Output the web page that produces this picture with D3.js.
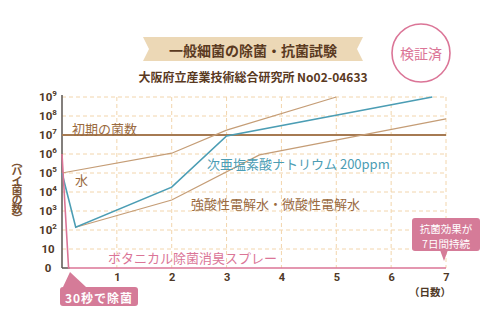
<!DOCTYPE html>
<html><head><meta charset="utf-8">
<script src="https://cdn.jsdelivr.net/npm/d3@7"></script>
<style>
html,body{margin:0;padding:0;background:#fff;}
svg{display:block;font-family:"Noto Sans CJK JP","Noto Sans",sans-serif;}
</style></head><body>
<svg id="c" width="503" height="323"></svg>
<script>
// ---- data ----
const dayTicks = [1, 2, 3, 4, 5, 6, 7];
const countTicks = [1, 10, 1e2, 1e3, 1e4, 1e5, 1e6, 1e7, 1e8, 1e9];
const countTickBase = ["0", "10", "10", "10", "10", "10", "10", "10", "10", "10"];
const countTickExp = ["", "", "2", "3", "4", "5", "6", "7", "8", "9"];
const initialCount = 1e7;

const waterDays = [0, 2, 3, 5];
const waterCounts = [1e5, 1.1e6, 1.8e7, 1e9];
const hypoDays = [0, 0.25, 2, 3, 6.75];
const hypoCounts = [1e5, 1.4e2, 1.8e4, 9e6, 1e9];
const acidDays = [0.25, 2, 3.6, 7];
const acidCounts = [1.4e2, 3.8e3, 9e5, 7e7];
const botanicalDays = [0, 0.12, 7];
const botanicalCounts = [1e6, 0, 0];

const titleText = "一般細菌の除菌・抗菌試験";
const subtitleText = "大阪府立産業技術総合研究所 No02-04633";
const stampText = "検証済";
const yAxisTitle = "（バイ菌の数）";
const xAxisTitle = "（日数）";

// ---- colors ----
const C = {
  grid: "#f2d5ac", axis: "#5a5450", tick: "#4e3826",
  initial: "#a67a52", thin: "#c59d76", blue: "#4b9db4", pink: "#db7597",
  labelBrown: "#9a6a3e", ylabel: "#7a5232", callout: "#d57b98", title: "#5a3a1f", banner: "#ecd8b6"
};

const svg = d3.select("#c");
const x = d3.scaleLinear().domain([0, 7]).range([62, 446]);
const y = d3.scaleLog().domain([1, 1e9]).range([268, 97]);
const yv = v => y(Math.max(v, 1));

// ---- header ----
const bx0 = 143, bx1 = 363, by0 = 37, by1 = 61, notch = 6;
svg.append("path")
  .attr("d", `M${bx0},${by0} L${bx1},${by0} L${bx1 - notch},${(by0 + by1) / 2} L${bx1},${by1} L${bx0},${by1} L${bx0 + notch},${(by0 + by1) / 2} Z`)
  .attr("fill", C.banner);
svg.append("text").attr("x", 253).attr("y", 50).attr("text-anchor", "middle")
  .attr("dominant-baseline", "central").attr("font-size", 14).attr("font-weight", 700)
  .attr("fill", C.title).text(titleText);
svg.append("text").attr("x", 253).attr("y", 76).attr("text-anchor", "middle")
  .attr("dominant-baseline", "central").attr("font-size", 12).attr("font-weight", 700)
  .attr("fill", C.title).text(subtitleText);
svg.append("circle").attr("cx", 421).attr("cy", 53).attr("r", 29)
  .attr("fill", "#fff").attr("stroke", C.pink).attr("stroke-width", 1.6);
svg.append("text").attr("x", 421).attr("y", 53).attr("text-anchor", "middle")
  .attr("dominant-baseline", "central").attr("font-size", 14).attr("fill", C.pink).text(stampText);

// ---- grid ----
svg.append("g").selectAll("line")
  .data(countTicks.filter(v => v > 1 && v !== initialCount))
  .join("line")
  .attr("x1", x(0)).attr("x2", x(7))
  .attr("y1", d => y(d)).attr("y2", d => y(d))
  .attr("stroke", C.grid).attr("stroke-width", 1).attr("stroke-dasharray", "4,3");
svg.append("g").selectAll("line")
  .data(dayTicks)
  .join("line")
  .attr("x1", d => x(d)).attr("x2", d => x(d))
  .attr("y1", y(1e9)).attr("y2", y(1))
  .attr("stroke", C.grid).attr("stroke-width", 1).attr("stroke-dasharray", "4,3");

// ---- axes ----
const xAxis = svg.append("g").attr("transform", `translate(0,${y(1) + 2})`)
  .call(d3.axisBottom(x).tickValues(dayTicks).tickSize(0).tickFormat(d3.format("d")));
xAxis.select(".domain").remove();
xAxis.selectAll("text").attr("font-size", 11).attr("font-weight", 700)
  .attr("fill", C.tick).attr("font-family", "Roboto, 'Noto Sans', sans-serif");
svg.append("text").attr("x", 430).attr("y", 291).attr("text-anchor", "middle")
  .attr("dominant-baseline", "central").attr("font-size", 10.5).attr("font-weight", 700)
  .attr("fill", C.tick).text(xAxisTitle);

const yAxis = svg.append("g").attr("transform", `translate(56,0)`)
  .call(d3.axisLeft(y).tickValues(countTicks).tickSize(0).tickFormat(""));
yAxis.select(".domain").remove();
yAxis.selectAll(".tick text").each(function (d, i) {
  const t = d3.select(this).text(null)
    .attr("x", -8).attr("dy", null).attr("y", -1)
    .attr("text-anchor", "middle").attr("dominant-baseline", "central")
    .attr("font-size", 11.5).attr("font-weight", 700).attr("fill", C.tick)
    .attr("font-family", "Roboto, 'Noto Sans', sans-serif");
  t.append("tspan").text(countTickBase[i]);
  if (countTickExp[i]) t.append("tspan").attr("font-size", 8).attr("dy", -4).text(countTickExp[i]);
});

svg.append("text").attr("x", 17).attr("y", 156)
  .style("writing-mode", "vertical-rl")
  .attr("font-size", 11).attr("font-weight", 700).attr("letter-spacing", -1.5)
  .attr("fill", C.ylabel).text(yAxisTitle);

svg.append("line").attr("x1", x(0)).attr("x2", x(0)).attr("y1", 95).attr("y2", y(1))
  .attr("stroke", C.axis).attr("stroke-width", 1.5);
svg.append("line").attr("x1", x(0)).attr("x2", x(0.14)).attr("y1", y(1)).attr("y2", y(1))
  .attr("stroke", C.axis).attr("stroke-width", 1.5);

// ---- series ----
const line = d3.line().x(d => x(d[0])).y(d => yv(d[1]));
const zip = (a, b) => a.map((v, i) => [v, b[i]]);

svg.append("line").attr("x1", x(0)).attr("x2", x(7))
  .attr("y1", y(initialCount)).attr("y2", y(initialCount))
  .attr("stroke", C.initial).attr("stroke-width", 2);

svg.append("path").datum(zip(waterDays, waterCounts)).attr("d", line)
  .attr("fill", "none").attr("stroke", C.thin).attr("stroke-width", 1.2);
svg.append("path").datum(zip(acidDays, acidCounts)).attr("d", line)
  .attr("fill", "none").attr("stroke", C.thin).attr("stroke-width", 1.2);
svg.append("path").datum(zip(hypoDays, hypoCounts)).attr("d", line)
  .attr("fill", "none").attr("stroke", C.blue).attr("stroke-width", 1.6);
svg.append("path").datum(zip(botanicalDays, botanicalCounts)).attr("d", line)
  .attr("fill", "none").attr("stroke", C.pink).attr("stroke-width", 1.6);

// ---- series labels ----
const lbl = (t, xx, yy, col) => svg.append("text").attr("x", xx).attr("y", yy)
  .attr("dominant-baseline", "central").attr("font-size", 13).attr("fill", col).text(t);
lbl("初期の菌数", 72, 128, C.labelBrown);
lbl("水", 75, 179, C.labelBrown);
lbl("次亜塩素酸ナトリウム 200ppm", 207, 163, C.blue);
lbl("強酸性電解水・微酸性電解水", 191, 203, C.labelBrown);
lbl("ボタニカル除菌消臭スプレー", 108, 257, C.pink);

// ---- callouts ----
svg.append("path")
  .attr("d", "M63,287 L70,272 L86,287 Z").attr("fill", C.callout);
svg.append("rect").attr("x", 60).attr("y", 287).attr("width", 78).attr("height", 19)
  .attr("rx", 3).attr("fill", C.callout);
svg.append("text").attr("x", 99).attr("y", 297).attr("text-anchor", "middle")
  .attr("dominant-baseline", "central").attr("font-size", 12).attr("font-weight", 700)
  .attr("letter-spacing", 1).attr("fill", "#fff").text("30秒で除菌");

svg.append("path")
  .attr("d", "M440,250 L444,261 L448,250 Z").attr("fill", C.callout);
svg.append("rect").attr("x", 412).attr("y", 218).attr("width", 68).attr("height", 33)
  .attr("rx", 3).attr("fill", C.callout);
svg.append("text").attr("x", 446).attr("y", 228).attr("text-anchor", "middle")
  .attr("dominant-baseline", "central").attr("font-size", 10.5).attr("fill", "#fff").text("抗菌効果が");
svg.append("text").attr("x", 446).attr("y", 243).attr("text-anchor", "middle")
  .attr("dominant-baseline", "central").attr("font-size", 10.5).attr("fill", "#fff").text("7日間持続");
</script>
</body></html>
